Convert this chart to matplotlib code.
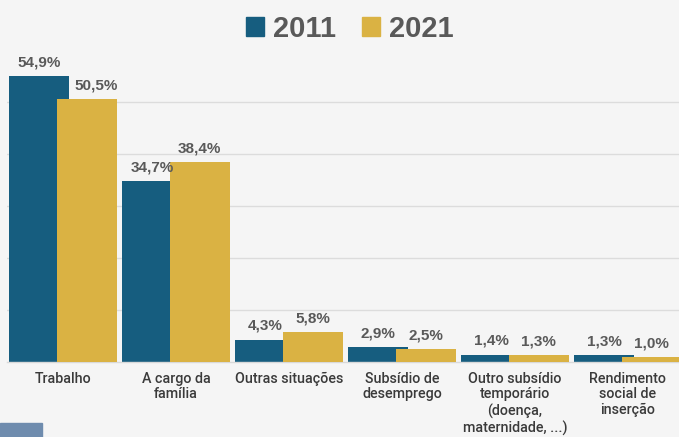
import matplotlib.pyplot as plt
import matplotlib.patches as mpatches
import numpy as np

categories = ["Trabalho", "A cargo da\nfamília", "Outras situações", "Subsídio de\ndesemprego",
              "Outro subsídio\ntemporário\n(doença,\nmaternidade, ...)", "Rendimento\nsocial de\ninserção"]
series_names = ["2011", "2021"]
values_2011 = [54.9, 34.7, 4.3, 2.9, 1.4, 1.3]
values_2021 = [50.5, 38.4, 5.8, 2.5, 1.3, 1.0]

colors = ["#165D7F", "#DAB243"]
bg = "#F5F5F5"
label_col = "#595959"

plt.rcParams['font.family'] = ['Liberation Sans', 'DejaVu Sans']

W, H = 679, 437
fig = plt.figure(figsize=(W / 100, H / 100), dpi=100, facecolor=bg)

ymax = 58
px_per_unit = 5.21
ax = fig.add_axes([6.5 / W, 75 / H, 678 / W, ymax * px_per_unit / H])
ax.set_facecolor(bg)

x = np.arange(len(categories))
width = 0.53
offset = 0.209

b1 = ax.bar(x - offset, values_2011, width, color=colors[0], zorder=2)
b2 = ax.bar(x + offset, values_2021, width, color=colors[1], zorder=3)

# data labels (the 2021 "Trabalho" label sits a bit to the right in the original)
label_shift = {("2021", 0): 7}
for name, bars, vals in [("2011", b1, values_2011), ("2021", b2, values_2021)]:
    for i, (bar, v) in enumerate(zip(bars, vals)):
        dx = label_shift.get((name, i), 0)
        ax.annotate(f"{v:.1f}%".replace(".", ","),
                    (bar.get_x() + bar.get_width() / 2, v),
                    xytext=(dx, 7), textcoords="offset points",
                    ha="center", va="baseline", fontsize=11, fontweight="bold",
                    color=label_col, zorder=4)

ax.set_xlim(-0.5, len(categories) - 0.5)
ax.set_ylim(0, ymax)
ax.set_yticks([10, 20, 30, 40, 50])
ax.yaxis.grid(True, color="#DCDCDC", lw=1, zorder=0)
ax.tick_params(axis="y", left=False, labelleft=False)
ax.set_xticks(x)
ax.set_xticklabels(categories, fontsize=10.3, color="#3A3A3A", linespacing=1.16,
                   family=["Roboto", "DejaVu Sans"], fontweight="medium")
ax.tick_params(axis="x", length=0, pad=7)
for s in ["top", "right", "left"]:
    ax.spines[s].set_visible(False)
ax.spines["bottom"].set_color("#D9D9D9")
ax.spines["bottom"].set_linewidth(1)

handles = [mpatches.Patch(color=c, label=n) for c, n in zip(colors, series_names)]
leg = fig.legend(handles=handles, loc="center", bbox_to_anchor=(0.515, 1 - 29 / H), ncol=2,
                 frameon=False, handlelength=0.62, handleheight=0.62, handletextpad=0.31,
                 columnspacing=0.9, prop={"size": 21, "weight": "bold"})
for t in leg.get_texts():
    t.set_color(label_col)

# small blue block at the bottom-left edge of the original crop
fig.patches.append(mpatches.Rectangle((0, 0), 42 / W, 14 / H, transform=fig.transFigure,
                                      color="#6F8CAE", zorder=0))

fig.savefig("out.png", dpi=100, facecolor=bg)
